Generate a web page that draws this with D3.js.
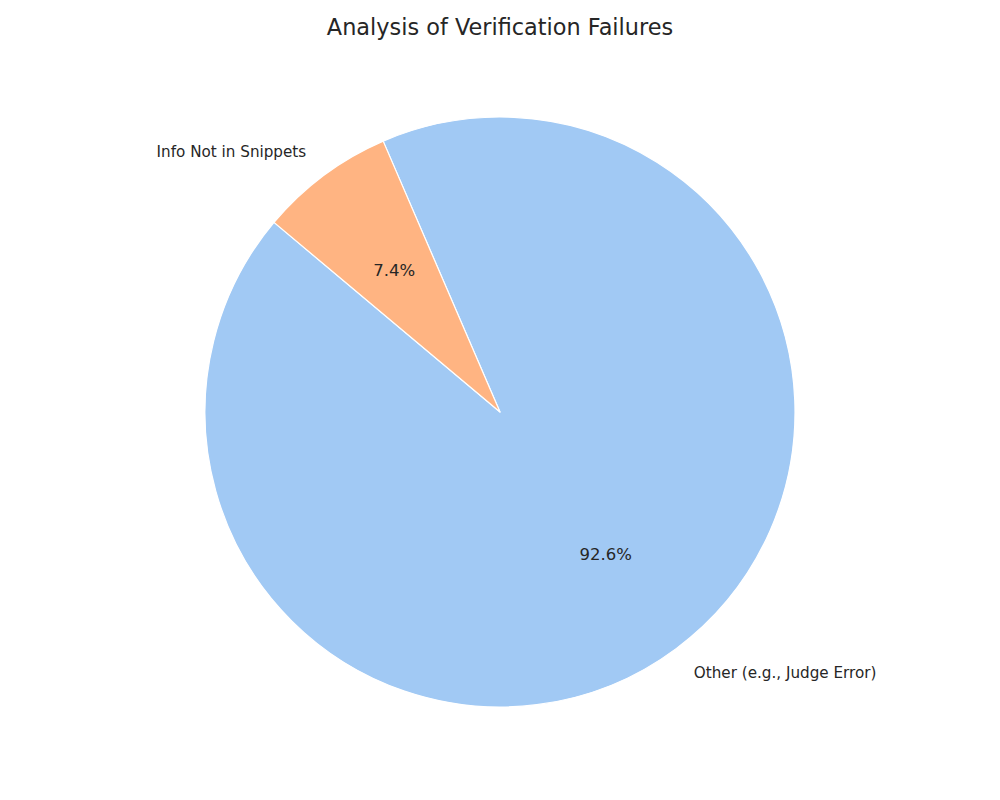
<!DOCTYPE html>
<html><head><meta charset="utf-8">
<script src="https://cdn.jsdelivr.net/npm/d3@7"></script>
<style>body{margin:0;background:#fff;}svg{display:block;}</style>
</head><body>
<svg id="c" width="1000" height="800"></svg>
<script>
const categories = ["Other (e.g., Judge Error)", "Info Not in Snippets"];
const counts = [25, 2];
const colors = ["#a1c9f4", "#ffb482"];
const title = "Analysis of Verification Failures";

const svg = d3.select("#c");
const W = 1000, H = 800;
const cx = 500, cy = 412, R = 295;
const font = "DejaVu Sans, sans-serif";
const textColor = "#262626";

svg.append("text").attr("x", W/2).attr("y", 35).attr("text-anchor", "middle")
  .attr("font-family", font).attr("font-size", 22.4).attr("fill", textColor).text(title);

const total = d3.sum(counts);
const startDeg = 140; // matplotlib startangle, counterclockwise
const toRad = d => d * Math.PI / 180;
const pie = d3.pie().sort(null).value(d => d)
  .startAngle(toRad(90 - startDeg)).endAngle(toRad(90 - startDeg - 360));
const arcs = pie(counts);
const arc = d3.arc().innerRadius(0).outerRadius(R);
const g = svg.append("g").attr("transform", `translate(${cx},${cy})`);
g.selectAll("path").data(arcs).enter().append("path")
  .attr("d", arc).attr("fill", (d, i) => colors[i])
  .attr("stroke", "#fff").attr("stroke-width", 1.2).attr("stroke-linejoin", "round");

function pos(d, r) {
  const a = (d.startAngle + d.endAngle) / 2;
  return [r * Math.sin(a), -r * Math.cos(a)];
}
arcs.forEach((d, i) => {
  const [lx, ly] = pos(d, R * 1.1);
  g.append("text").attr("x", lx).attr("y", ly).attr("dy", "0.35em")
    .attr("text-anchor", lx < 0 ? "end" : "start")
    .attr("font-family", font).attr("font-size", 15.2).attr("fill", textColor)
    .text(categories[i]);
  const [px, py] = pos(d, R * 0.6);
  g.append("text").attr("x", px).attr("y", py).attr("dy", "0.35em")
    .attr("text-anchor", "middle")
    .attr("font-family", font).attr("font-size", 16.5).attr("fill", textColor)
    .text((d.value / total * 100).toFixed(1) + "%");
});
</script>
</body></html>
